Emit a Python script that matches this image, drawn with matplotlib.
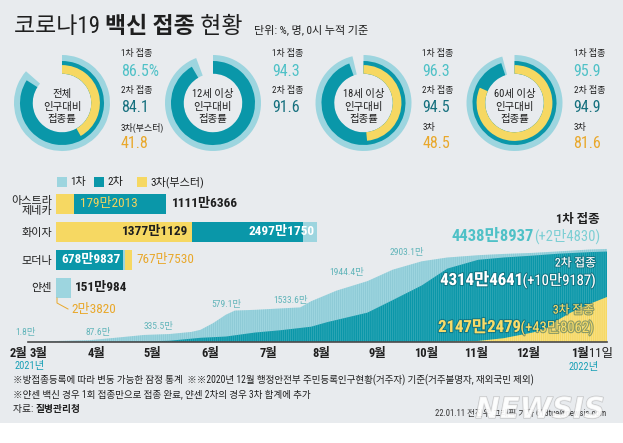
import numpy as np
import matplotlib
matplotlib.use("Agg")
import matplotlib.pyplot as plt
from matplotlib import font_manager as fm
import matplotlib.patheffects as pe
from matplotlib.patches import Rectangle

avail = {f.name for f in fm.fontManager.ttflist}
NARROW = next((n for n in ["Liberation Sans Narrow", "Roboto Condensed",
                           "Open Sans Condensed", "Roboto"] if n in avail), "DejaVu Sans")
KR = "Noto Sans CJK KR"
FAM = [NARROW, KR, "DejaVu Sans"]
plt.rcParams["font.family"] = FAM
plt.rcParams["hatch.linewidth"] = 0.45

# ---------------- data ----------------
title_reg1 = "코로나19 "
title_bold = "백신 접종"
title_reg2 = " 현황"
unit_note = "단위: %, 명, 0시 누적 기준"

groups = ["전체", "12세 이상", "18세 이상", "60세 이상"]
rate_1st = [86.5, 94.3, 96.3, 95.9]
rate_2nd = [84.1, 91.6, 94.5, 94.9]
rate_3rd = [41.8, np.nan, 48.5, 81.6]
label_3rd = ["3차(부스터)", "", "3차", "3차"]

legend_labels = ["1차", "2차", "3차(부스터)"]

vaccines = ["아스트라\n제네카", "화이자", "모더나", "얀센"]
vac_1st = [11130000, 26400000, 7000000, 1510984]   # hidden 1차 values estimated
vac_2nd = [11116366, 24971750, 6789837, 0]
vac_3rd = [1792013, 13771129, 7677530, 23820]

# cumulative people (만 명)
d1_dates = ["2021-02-26", "2021-03-15", "2021-04-01", "2021-04-15", "2021-05-01",
            "2021-05-15", "2021-05-27", "2021-06-01", "2021-06-08", "2021-06-15",
            "2021-06-20", "2021-07-01", "2021-07-15", "2021-07-26", "2021-08-01",
            "2021-08-15", "2021-09-01", "2021-09-15", "2021-10-01", "2021-10-15",
            "2021-11-01", "2021-11-15", "2021-12-01", "2021-12-15", "2022-01-01",
            "2022-01-11"]
d1_vals = [1.8, 50, 87.6, 200, 335.5, 380, 480, 579.1, 900, 1300, 1500, 1533.6,
           1600, 1650, 1944.4, 2450, 2903.1, 3450, 3850, 4030, 4140, 4200, 4250,
           4320, 4410, 4438.8937]
d2_dates = ["2021-02-26", "2021-03-15", "2021-04-01", "2021-04-15", "2021-05-01",
            "2021-05-15", "2021-06-01", "2021-06-15", "2021-07-01", "2021-07-15",
            "2021-08-01", "2021-08-10", "2021-09-01", "2021-09-15", "2021-10-01",
            "2021-10-15", "2021-11-01", "2021-11-15", "2021-12-01", "2021-12-15",
            "2022-01-01", "2022-01-11"]
d2_vals = [0, 0, 3, 8, 25, 60, 200, 260, 450, 560, 730, 950, 1400, 2000, 2700,
           3500, 3920, 4030, 4120, 4210, 4285, 4314.4641]
d3_dates = ["2021-02-26", "2021-10-01", "2021-10-15", "2021-11-01", "2021-11-15",
            "2021-12-01", "2021-12-08", "2021-12-15", "2021-12-22", "2022-01-01",
            "2022-01-11"]
d3_vals = [0, 0, 15, 50, 180, 450, 620, 1050, 1400, 1800, 2147.2479]

total_1st, inc_1st = 44388937, 24830
total_2nd, inc_2nd = 43144641, 109187
total_3rd, inc_3rd = 21472479, 438062

area_notes = ["1.8만", "87.6만", "335.5만", "579.1만", "1533.6만", "1944.4만", "2903.1만"]
month_labels = ["2월", "3월", "4월", "5월", "6월", "7월", "8월", "9월", "10월", "11월", "12월"]

notes = ["※방접종등록에 따라 변동 가능한 잠정 통계  ※※2020년 12월 행정안전부 주민등록인구현황(거주자) 기준(거주불명자, 재외국민 제외)",
         "※얀센 백신 경우 1회 접종만으로 접종 완료, 얀센 2차의 경우 3차 합계에 추가"]
source_label, source_name = "자료: ", "질병관리청"
credit = "22.01.11 전진우 그래픽 기자 618tue@newsis.com"

# ---------------- style / layout ----------------
BG = "#e8ebee"
C1, C2, C3 = "#9dd5df", "#0a97a9", "#f6d862"
T1, T2, T3 = "#4fc1c7", "#16707e", "#e9a82b"
DARK = "#1f1f1f"
NOTE_C = "#62b5ba"

W, H = 623, 443
fig = plt.figure(figsize=(W / 100, H / 100), dpi=100, facecolor="white")
R = fig.canvas.get_renderer()


def px_axes(x0, y0, x1, y1, z=1):
    ax = fig.add_axes([x0 / W, 1 - y1 / H, (x1 - x0) / W, (y1 - y0) / H], zorder=z)
    ax.set_axis_off()
    return ax


bg = px_axes(0, 0, W, H, z=0)
bg.set_xlim(0, W); bg.set_ylim(H, 0)
bg.add_patch(Rectangle((0, 0), W, 423, color=BG, lw=0))

ov = px_axes(0, 0, W, H, z=10)
ov.set_xlim(0, W); ov.set_ylim(H, 0)


def man(n):
    return f"{n // 10000}만{n % 10000}" if n >= 10000 else str(n)


def txt(x, y, s, size, color=DARK, weight="normal", ha="left", va="center", ax=None, **kw):
    return (ax or ov).text(x, y, s, fontsize=size, color=color, fontweight=weight,
                           ha=ha, va=va, **kw)


def seq(x, y, parts, ha="left", va="baseline"):
    ts = [txt(0, y, s, va=va, **kw) for s, kw in parts]
    ws = [t.get_window_extent(R).width for t in ts]
    tot = sum(ws)
    cur = x - (tot if ha == "right" else tot / 2 if ha == "center" else 0)
    for t, w in zip(ts, ws):
        t.set_x(cur)
        cur += w
    return ts


# ---------------- title ----------------
seq(14, 33, [(title_reg1, dict(size=16.5)), (title_bold, dict(size=16.5, weight="bold")),
             (title_reg2, dict(size=16.5))])
txt(254, 30, unit_note, 8)

# ---------------- donuts ----------------
DONUT_CX = [62, 213, 363.5, 514.5]
CY = 103
for k in range(4):
    cx = DONUT_CX[k]
    dax = px_axes(cx - 50, CY - 50, cx + 50, CY + 50, z=3)
    wp = dict(linewidth=0)
    dax.pie([rate_1st[k], 100 - rate_1st[k]], radius=1.0, colors=[C1, "none"],
            startangle=90, counterclock=False, wedgeprops=dict(width=0.39, **wp))
    dax.pie([rate_2nd[k], 100 - rate_2nd[k]], radius=0.875, colors=[C2, "none"],
            startangle=90, counterclock=False, wedgeprops=dict(width=0.265, **wp))
    if not np.isnan(rate_3rd[k]):
        dax.pie([rate_3rd[k], 100 - rate_3rd[k]], radius=0.79, colors=[C3, "none"],
                startangle=90, counterclock=False, wedgeprops=dict(width=0.18, **wp))
    dax.set_xlim(-50 / 48, 50 / 48); dax.set_ylim(-50 / 48, 50 / 48)
    txt(cx, CY + 3.5, f"{groups[k]}\n인구대비\n접종률", 7.5, ha="center", linespacing=1.3)

    tx = cx + 59
    txt(tx, 53, "1차 접종", 6.5)
    txt(tx, 71, f"{rate_1st[k]}" + ("%" if k == 0 else ""), 11.5, color=T1)
    txt(tx, 90, "2차 접종", 6.5)
    txt(tx, 107, f"{rate_2nd[k]}", 11.5, color=T2)
    if not np.isnan(rate_3rd[k]):
        txt(tx, 127.5, label_3rd[k], 6.5)
        txt(tx, 144, f"{rate_3rd[k]}", 11.5, color=T3)

# ---------------- legend ----------------
for (lx, c, lab) in zip([57, 94, 137], [C1, C2, C3], legend_labels):
    ov.add_patch(Rectangle((lx, 177), 10, 10, color=c, lw=0))
    txt(lx + 13, 182, lab, 8)

# ---------------- vaccine bars ----------------
bax = px_axes(56, 190, 356, 302, z=4)
bax.set_xlim(0, 3030); bax.set_ylim(3.5, -0.5)
for i in range(4):
    vals = [(vac_1st[i] / 1e4, C1), (vac_2nd[i] / 1e4, C2), (vac_3rd[i] / 1e4, C3)]
    for z, (v, c) in enumerate(sorted(vals, key=lambda t: -t[0])):
        bax.barh(i, v, height=0.68, color=c, lw=0, zorder=2 + z)
cat_y = [206, 233, 261, 288]
for i in range(4):
    txt(52, cat_y[i], vaccines[i], 8, ha="right", linespacing=1.05)


def blab(x, i, s, dx, color, weight, ha="left", size=9.5):
    bax.annotate(s, (x, i), xytext=(dx * 0.72, 0), textcoords="offset points",
                 ha=ha, va="center", fontsize=size, color=color, fontweight=weight,
                 zorder=10)


blab(vac_3rd[0] / 1e4, 0, man(vac_3rd[0]), 6, "#f3d35e", "normal")
blab(vac_2nd[0] / 1e4, 0, man(vac_2nd[0]), 6, DARK, "bold")
blab(vac_3rd[1] / 1e4, 1, man(vac_3rd[1]), -4, DARK, "bold", ha="right")
blab(vac_1st[1] / 1e4, 1, man(vac_2nd[1]), -3, "white", "bold", ha="right")
blab(0, 2, man(vac_2nd[2]), 5, "white", "bold")
blab(vac_3rd[2] / 1e4, 2, man(vac_3rd[2]), 4, T3, "normal")
blab(vac_1st[3] / 1e4, 3, man(vac_1st[3]), 4, DARK, "bold")
ov.plot([57, 57, 68], [298, 303, 309], color=T3, lw=0.7)
txt(71, 309.5, man(vac_3rd[3]), 9.5, color=T3)

# ---------------- cumulative area ----------------
start = np.datetime64("2021-02-26")


def days(ds):
    return (np.array(ds, dtype="datetime64[D]") - start).astype(int)


aax = px_axes(28, 242, 607, 342, z=2)
aax.set_xlim(0, days(["2022-01-11"])[0]); aax.set_ylim(0, 4770)
aax.fill_between(days(d1_dates), d1_vals, facecolor=C1, edgecolor=(0.35, 0.65, 0.72, 0.35),
                 hatch="|" * 8, linewidth=0, zorder=1)
aax.fill_between(days(d2_dates), d2_vals, facecolor=C2, edgecolor=(1, 1, 1, 0.22),
                 hatch="|" * 8, linewidth=0, zorder=2)
aax.fill_between(days(d3_dates), d3_vals, facecolor=C3, edgecolor=(1, 1, 1, 0.35),
                 hatch="|" * 8, linewidth=0, zorder=3)
aax.axhline(0, color="#4a4a4a", lw=1.2, clip_on=False, zorder=5)

NOTE_POS = [(25, 333), (98, 333), (159, 327), (226, 305), (291, 300), (347, 273), (407, 252)]
for s, (x, y) in zip(area_notes, NOTE_POS):
    txt(x, y, s, 6.8, color=NOTE_C, ha="center")

MONTH_X = [19, 38.5, 96, 152, 210, 268, 321, 377, 426, 476, 528]
for s, x in zip(month_labels, MONTH_X):
    txt(x, 353, s, 9, weight="bold", ha="center")
seq(613, 357, [("1월", dict(size=9, weight="bold")), ("11일", dict(size=9))], ha="right")
txt(15, 366, "2021년", 7.5, color="#1aa0b6")
txt(569, 367, "2022년", 7.5, color="#1aa0b6")

# right-side totals
txt(600, 219, "1차 접종", 9, weight="bold", ha="right")
seq(600, 241, [(man(total_1st), dict(size=12, weight="bold", color=T1)),
               (f"(+{man(inc_1st)})", dict(size=10.5, color="#7dcfd4"))], ha="right")
shadow = [pe.withStroke(linewidth=1.6, foreground=(0.05, 0.3, 0.35, 0.45))]
t = txt(596, 263, "2차 접종", 8.5, color="white", ha="right")
t.set_path_effects(shadow)
for t in seq(596, 285, [(man(total_2nd), dict(size=12, weight="bold", color="white")),
                        (f"(+{man(inc_2nd)})", dict(size=10.5, color="white"))], ha="right"):
    t.set_path_effects(shadow)
t = txt(594, 310, "3차 접종", 8.5, color="#f7dc6a", ha="right")
t.set_path_effects(shadow)
for t in seq(594, 332, [(man(total_3rd), dict(size=12, weight="bold", color="#f7dc6a")),
                        (f"(+{man(inc_3rd)})", dict(size=10.5, color="#f7dc6a"))], ha="right"):
    t.set_path_effects(shadow)

# ---------------- notes ----------------
txt(13, 380, notes[0], 6.9)
txt(13, 394, notes[1], 6.9)
seq(13, 412, [(source_label, dict(size=7)), (source_name, dict(size=7, weight="bold"))])
txt(606, 413, credit, 6.2, ha="right", color="#333333")
wm = txt(540, 410, "NEWSIS", 21, color=(1, 1, 1, 0.7), weight="bold", ha="center",
         style="italic", family="DejaVu Sans")
wm.set_path_effects([pe.withStroke(linewidth=1.0, foreground=(0.6, 0.6, 0.6, 0.45))])

fig.savefig("out.png", dpi=100, facecolor="white")
